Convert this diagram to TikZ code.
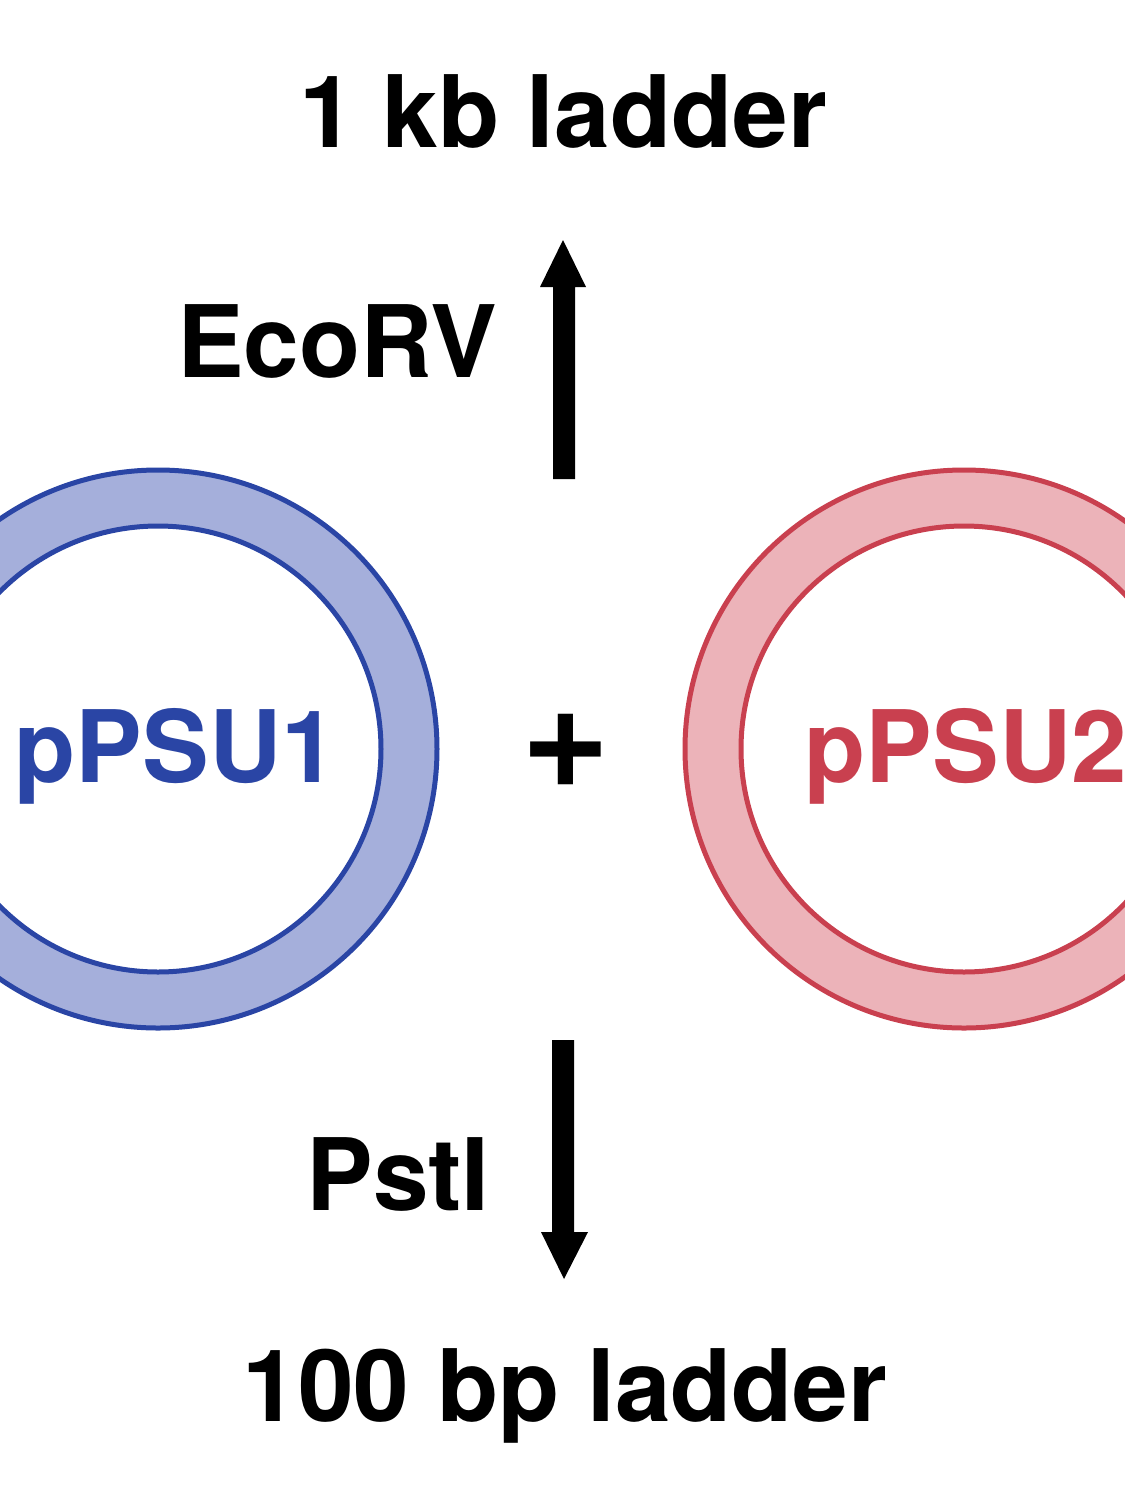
\documentclass[tikz,border=0pt]{standalone}
\usepackage{fontspec}
\setmainfont{TeX Gyre Heros}
\definecolor{blueline}{HTML}{2A45A5}
\definecolor{bluefill}{HTML}{A5AFDB}
\definecolor{redline}{HTML}{C9404F}
\definecolor{redfill}{HTML}{ECB3B9}
\tikzset{
  lab/.style={font=\fontsize{100}{100}\selectfont\bfseries, text=black, inner sep=0pt, anchor=base},
  plasmidlab/.style={font=\fontsize{100}{100}\selectfont\bfseries, inner sep=0pt, anchor=base},
  pluslab/.style={font=\fontsize{152}{152}\selectfont\bfseries, text=black, inner sep=0pt, anchor=base},
  bigarrow/.style={fill=black, draw=none}
}
\begin{document}
\begin{tikzpicture}[x=1pt,y=-1pt]
\useasboundingbox[fill=white] (0,0) rectangle (1125,1500);
\begin{scope}
\clip (0,0) rectangle (1125,1500);
\fill[bluefill, even odd rule] (158,749) circle (279) (158,749) circle (223);
\draw[blueline, line width=5] (158,749) circle (279) (158,749) circle (223);
\fill[redfill, even odd rule] (964,749) circle (279) (964,749) circle (223);
\draw[redline, line width=5] (964,749) circle (279) (964,749) circle (223);
\end{scope}
\node[lab] (top) at (563,147) {1 kb ladder};
\node[lab] (eco) at (337,377) {EcoRV};
\node[lab] (pst) at (398,1210) {PstI};
\node[lab] (bot) at (565,1421) {100 bp ladder};
\node[plasmidlab, text=blueline] (p1) at (176,782) {pPSU1};
\node[plasmidlab, text=redline] (p2) at (966,782) {pPSU2};
\node[pluslab] (plus) at (566,787) {+};
\fill[bigarrow] (553,479) -- (553,287) -- (540,287) -- (563,240) -- (586,287) -- (575,287) -- (575,479) -- cycle;
\fill[bigarrow] (552,1040) -- (552,1232) -- (541,1232) -- (564,1279) -- (588,1232) -- (574,1232) -- (574,1040) -- cycle;
\end{tikzpicture}
\end{document}
